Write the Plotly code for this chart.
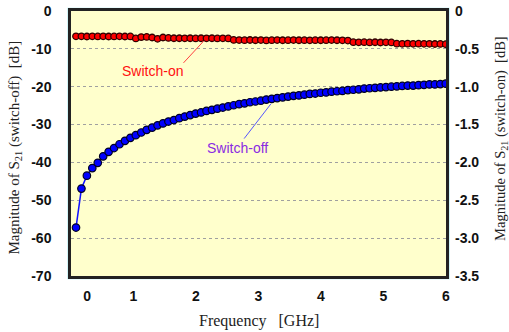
import plotly.graph_objects as go

# Frequency grid [GHz]
freq = [0.08, 0.167, 0.254, 0.341, 0.428, 0.515, 0.602, 0.689, 0.776, 0.863,
        0.95, 1.037, 1.124, 1.211, 1.298, 1.385, 1.472, 1.559, 1.646, 1.733,
        1.82, 1.907, 1.994, 2.081, 2.168, 2.255, 2.342, 2.429, 2.516, 2.603,
        2.69, 2.777, 2.864, 2.951, 3.038, 3.125, 3.212, 3.299, 3.386, 3.473,
        3.56, 3.647, 3.734, 3.821, 3.908, 3.995, 4.082, 4.169, 4.256, 4.343,
        4.43, 4.517, 4.604, 4.691, 4.778, 4.865, 4.952, 5.039, 5.126, 5.213,
        5.3, 5.387, 5.474, 5.561, 5.648, 5.735, 5.822, 5.909, 5.996]

# |S21| switch-off [dB] (left axis)
s21_off = [-57.2, -46.9, -43.5, -41.5, -40.1, -38.4, -37.2, -36.2, -35.2, -34.3,
           -33.5, -32.8, -32.1, -31.4, -30.8, -30.2, -29.7, -29.2, -28.8, -28.3,
           -27.9, -27.5, -27.1, -26.8, -26.4, -26.1, -25.8, -25.5, -25.2, -24.9,
           -24.6, -24.4, -24.1, -23.9, -23.7, -23.4, -23.2, -23.0, -22.8, -22.6,
           -22.4, -22.3, -22.1, -21.9, -21.8, -21.6, -21.5, -21.3, -21.2, -21.1,
           -20.9, -20.8, -20.7, -20.5, -20.4, -20.3, -20.2, -20.1, -20.0, -19.9,
           -19.8, -19.7, -19.7, -19.6, -19.5, -19.4, -19.4, -19.3, -19.2]

# |S21| switch-on [dB] (right axis)
s21_on = [-0.335, -0.335, -0.337, -0.335, -0.336, -0.335, -0.337, -0.336, -0.335, -0.337,
          -0.336, -0.362, -0.345, -0.343, -0.350, -0.368, -0.350, -0.356, -0.360, -0.360,
          -0.361, -0.360, -0.362, -0.360, -0.361, -0.360, -0.362, -0.361, -0.362, -0.382,
          -0.384, -0.385, -0.383, -0.386, -0.384, -0.388, -0.385, -0.384, -0.386, -0.385,
          -0.384, -0.386, -0.385, -0.387, -0.385, -0.386, -0.385, -0.384, -0.386, -0.387,
          -0.390, -0.412, -0.414, -0.412, -0.415, -0.413, -0.416, -0.414, -0.415, -0.432,
          -0.433, -0.431, -0.434, -0.432, -0.434, -0.433, -0.436, -0.435, -0.438]

x_tickvals = [0.26, 1, 2, 3, 4, 5, 6]
x_ticktext = ["0", "1", "2", "3", "4", "5", "6"]
yl_tickvals = [0, -10, -20, -30, -40, -50, -60, -70]
yl_ticktext = ["0", "-10", "-20", "-30", "-40", "-50", "-60", "-70"]
yr_tickvals = [0, -0.5, -1.0, -1.5, -2.0, -2.5, -3.0, -3.5]
yr_ticktext = ["0", "-0.5", "-1.0", "-1.5", "-2.0", "-2.5", "-3.0", "-3.5"]

fig = go.Figure()
fig.add_trace(go.Scatter(
    x=freq, y=s21_off, mode="lines+markers", yaxis="y",
    line=dict(color="#1010FF", width=1.5),
    marker=dict(size=7.5, color="#0000FF", line=dict(color="#000022", width=1.2)),
    showlegend=False))
fig.add_trace(go.Scatter(
    x=freq, y=s21_on, mode="lines+markers", yaxis="y2",
    line=dict(color="#FF0000", width=1),
    marker=dict(size=6.5, color="#FF0000", line=dict(color="#300000", width=1.3)),
    showlegend=False))

tickfont = dict(family="Liberation Sans, Arial", size=14, color="#111111", weight="bold")

fig.update_layout(
    template="none",
    width=509, height=332,
    margin=dict(l=71, r=63, t=11, b=56, autoexpand=False),
    paper_bgcolor="white",
    plot_bgcolor="#FFFFCC",
    xaxis=dict(range=[0, 6], tickvals=x_tickvals, ticktext=x_ticktext,
               ticks="", showgrid=False, zeroline=False, tickfont=tickfont,
               ticklabelstandoff=5, showline=True, linecolor="#222222",
               linewidth=2.5, mirror=True, automargin=False),
    xaxis2=dict(range=[0, 6], overlaying="x", tickvals=[1, 2, 3, 4, 5],
                ticks="inside", ticklen=6, tickwidth=2, tickcolor="#222222",
                showticklabels=False, showgrid=False, zeroline=False,
                automargin=False),
    yaxis=dict(range=[-70, 0], tickvals=yl_tickvals, ticktext=yl_ticktext,
               ticks="", showgrid=True, gridcolor="#A0A0A0", griddash="3px,3px",
               gridwidth=1, zeroline=False, tickfont=tickfont, ticklabelstandoff=14,
               showline=True, linecolor="#222222", linewidth=2.5, mirror=True,
               automargin=False),
    yaxis2=dict(range=[-3.5, 0], overlaying="y", side="right",
                tickvals=yr_tickvals, ticktext=yr_ticktext, ticks="",
                showgrid=False, zeroline=False, tickfont=tickfont,
                ticklabelstandoff=8, automargin=False),
    shapes=[
        dict(type="rect", xref="paper", yref="paper",
             x0=-0.0075, x1=1.0075, y0=-0.0095, y1=1.0095,
             line=dict(color="#B0EEF2", width=1.5), fillcolor="rgba(0,0,0,0)",
             layer="below"),
        dict(type="line", xref="x", yref="y", x0=1.80, y0=-13.7, x1=2.125, y1=-7.9,
             line=dict(color="#FF4040", width=1)),
        dict(type="line", xref="x", yref="y", x0=2.77, y0=-33.7, x1=3.20, y1=-24.5,
             line=dict(color="#5555FF", width=1)),
    ],
    annotations=[
        dict(text="Switch-on", x=1.30, y=-15.8, xref="x", yref="y", showarrow=False,
             font=dict(family="Liberation Sans, Arial", size=14, color="#FF1010")),
        dict(text="Switch-off", x=2.66, y=-36.3, xref="x", yref="y", showarrow=False,
             font=dict(family="Liberation Sans, Arial", size=14, color="#8A2BE2")),
        dict(text="Frequency   [GHz]", x=0.5, y=-0.168, xref="paper", yref="paper",
             showarrow=False, xanchor="center", yanchor="middle",
             font=dict(family="Liberation Serif, Times New Roman", size=16, color="#222222")),
        dict(text="Magnitude of S<sub>21</sub> (switch-off)  [dB]", x=-0.149, y=0.485,
             xref="paper", yref="paper", showarrow=False, textangle=-90,
             xanchor="center", yanchor="middle",
             font=dict(family="Liberation Serif, Times New Roman", size=15, color="#222222")),
        dict(text="Magnitude of S<sub>21</sub> (switch-on)  [dB]", x=1.146, y=0.52,
             xref="paper", yref="paper", showarrow=False, textangle=-90,
             xanchor="center", yanchor="middle",
             font=dict(family="Liberation Serif, Times New Roman", size=14.5, color="#222222")),
    ],
)

fig.write_html("out.html", config={"displayModeBar": False},
               post_script="document.body.style.margin='0';document.body.style.padding='0';")
